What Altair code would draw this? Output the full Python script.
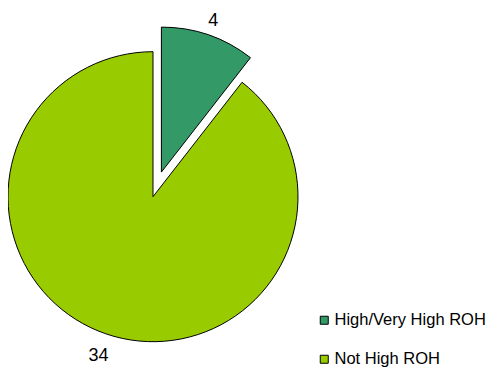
import altair as alt
import pandas as pd

categories = ["High/Very High ROH", "Not High ROH"]
counts = [4, 34]
colors = ["#339966", "#99CC00"]
order = [0, 1]

df = pd.DataFrame({"category": categories, "count": counts, "order": order})

CX, CY = 145.0, 188.7
R = 145
EXPLODE = "High/Very High ROH"
DX, DY = 8.4, -24.6
FONT = "Liberation Sans"

is_exp = alt.datum.category == EXPLODE

base = alt.Chart(df).encode(
    theta=alt.Theta("count:Q", stack=True),
    order=alt.Order("order:Q"),
)

color = alt.Color(
    "category:N",
    scale=alt.Scale(domain=categories, range=colors),
    legend=alt.Legend(
        title=None,
        orient="none",
        legendX=308,
        legendY=304,
        symbolType="square",
        symbolSize=64,
        symbolStrokeColor="black",
        symbolStrokeWidth=1,
        symbolOpacity=1,
        labelFont=FONT,
        labelFontSize=16.5,
        labelColor="black",
        rowPadding=22,
        labelOffset=2,
        padding=0,
    ),
)

main_arc = base.mark_arc(stroke="black", strokeWidth=1, outerRadius=R).encode(
    x=alt.value(CX), y=alt.value(CY), color=color,
    opacity=alt.condition(is_exp, alt.value(0), alt.value(1)),
)
exp_arc = base.mark_arc(stroke="black", strokeWidth=1, outerRadius=R).encode(
    x=alt.value(CX + DX), y=alt.value(CY + DY), color=color,
    opacity=alt.condition(is_exp, alt.value(1), alt.value(0)),
)
main_txt = base.mark_text(radius=168, fontSize=18, font=FONT, color="black").encode(
    text="count:Q", x=alt.value(CX), y=alt.value(CY),
    opacity=alt.condition(is_exp, alt.value(0), alt.value(1)),
)
exp_txt = base.mark_text(radius=160, fontSize=18, font=FONT, color="black").encode(
    text="count:Q", x=alt.value(CX + DX), y=alt.value(CY + DY),
    opacity=alt.condition(is_exp, alt.value(1), alt.value(0)),
)

chart = (
    alt.layer(main_arc, exp_arc, main_txt, exp_txt)
    .properties(width=488, height=361, autosize=alt.AutoSizeParams(type="none"), padding=0)
    .configure_view(stroke=None)
)

chart.save("out.html", embed_options={"renderer": "svg", "actions": False})
